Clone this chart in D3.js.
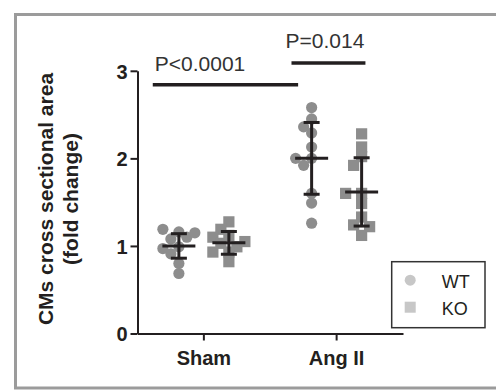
<!DOCTYPE html>
<html>
<head>
<meta charset="utf-8">
<script src="https://cdn.jsdelivr.net/npm/d3@7.9.0/dist/d3.min.js"></script>
<style>
  html, body { margin: 0; padding: 0; background: #fff; }
  svg { display: block; font-family: "Liberation Sans", Arial, sans-serif; }
</style>
</head>
<body>
<svg width="496" height="390"></svg>
<script>
// groups on the x axis and the two genotypes inside each
const categories = ['Sham', 'Ang II'];
const genotypes = ['WT', 'KO'];

// individual fold-change values
const shamWT = [1.16, 1.19, 1.08, 0.99, 0.97, 0.91, 0.80, 0.685, 1.10, 1.15];
const shamKO = [1.275, 1.19, 1.12, 1.10, 1.03, 0.99, 0.93, 0.93, 0.82, 1.05];
const angWT = [2.58, 2.45, 2.36, 2.29, 2.13, 2.0, 2.0, 1.92, 1.6, 1.49, 1.26];
const angKO = [2.28, 2.13, 2.02, 1.92, 1.6, 1.6, 1.485, 1.33, 1.24, 1.22, 1.12];

// mean and SD bars as drawn
const means = [1.0, 1.035, 2.0, 1.617];
const sds = [0.14, 0.13, 0.41, 0.39];

const yTicks = [0, 1, 2, 3];

// significance annotations (x in category units: 0 = Sham, 1 = Ang II)
const sigLabels = ['P<0.0001', 'P=0.014'];
const sigFrom = [-0.385, 0.66];
const sigTo = [0.71, 1.217];
const sigLevel = [2.84, 3.09];
const sigTextX = [-0.37, 0.615];
const sigTextY = [3.0, 3.255];

const series = [
  { cat: 'Sham', geno: 'WT', values: shamWT },
  { cat: 'Sham', geno: 'KO', values: shamKO },
  { cat: 'Ang II', geno: 'WT', values: angWT },
  { cat: 'Ang II', geno: 'KO', values: angKO },
];
series.forEach((s, i) => { s.mean = means[i]; s.sd = sds[i]; });

const svg = d3.select('svg');
const ink = '#231f20';
const dotColor = '#8d8d8d';

// outer grey frame
svg.append('rect')
  .attr('x', 15.5).attr('y', 14.5)
  .attr('width', 520).attr('height', 373.5)
  .attr('fill', 'none').attr('stroke', '#9b9b9b').attr('stroke-width', 3);

const x = d3.scaleBand().domain(categories).range([137.5, 403]);
const xCenter = (c) => x(c) + x.bandwidth() / 2;
const xSub = d3.scalePoint().domain(genotypes).range([-25, 25]);
const xCat = d3.scaleLinear().domain([0, 1])
  .range([xCenter(categories[0]), xCenter(categories[1])]);
const y = d3.scaleLinear().domain([0, 3]).range([333.5, 70.8]);

// y axis
const yAxis = svg.append('g')
  .attr('transform', 'translate(137.5,0)')
  .call(d3.axisLeft(y).tickValues(yTicks).tickFormat(d3.format('d')).tickSize(7).tickSizeOuter(0));
yAxis.select('.domain').attr('stroke', ink).attr('stroke-width', 2);
yAxis.selectAll('.tick line').attr('stroke', ink).attr('stroke-width', 2);
yAxis.selectAll('.tick text')
  .attr('fill', ink).attr('font-size', 20).attr('font-weight', 'bold')
  .attr('font-family', '"Liberation Sans", Arial, sans-serif')
  .attr('x', -10).attr('dy', '0.36em');

// x axis
const xAxis = svg.append('g')
  .attr('transform', 'translate(0,333.5)')
  .call(d3.axisBottom(x).tickSize(7).tickSizeOuter(0));
xAxis.select('.domain').attr('stroke', ink).attr('stroke-width', 2);
xAxis.selectAll('.tick line').attr('stroke', ink).attr('stroke-width', 2);
xAxis.selectAll('.tick text')
  .attr('fill', ink).attr('font-size', 20).attr('font-weight', 'bold')
  .attr('font-family', '"Liberation Sans", Arial, sans-serif')
  .attr('y', 17).attr('dy', '0.71em');

// y axis title
const yTitle = svg.append('text')
  .attr('transform', 'translate(52.5,199) rotate(-90)')
  .attr('text-anchor', 'middle')
  .attr('font-size', 21).attr('font-weight', 'bold').attr('fill', ink);
yTitle.append('tspan').attr('x', 0).attr('y', 0).text('CMs cross sectional area');
yTitle.append('tspan').attr('x', 0).attr('y', 25.5).text('(fold change)');

// simple beeswarm so overlapping points spread sideways
function swarm(values, cx, step, minDist) {
  const placed = [];
  const offsets = [0, -step, step, -2 * step, 2 * step];
  values.forEach((v) => {
    const py = y(v);
    let best = null, bestD = -1;
    for (const o of offsets) {
      const px = cx + o;
      const d = placed.length
        ? d3.min(placed, (p) => Math.hypot(p.x - px, p.y - py))
        : Infinity;
      if (d >= minDist) { best = px; break; }
      if (d > bestD) { bestD = d; best = px; }
    }
    placed.push({ x: best, y: py, v });
  });
  return placed;
}

const r = 5.6;
series.forEach((s) => {
  const cx = xCenter(s.cat) + xSub(s.geno);
  const pts = swarm(s.values, cx, 8, 9.3);
  const g = svg.append('g');
  if (s.geno === 'WT') {
    g.selectAll('circle').data(pts).join('circle')
      .attr('cx', (d) => d.x).attr('cy', (d) => d.y).attr('r', r)
      .attr('fill', dotColor);
  } else {
    g.selectAll('rect').data(pts).join('rect')
      .attr('x', (d) => d.x - r).attr('y', (d) => d.y - r)
      .attr('width', 2 * r).attr('height', 2 * r)
      .attr('fill', dotColor);
  }

  // mean and SD
  const eb = svg.append('g').attr('stroke', ink).attr('stroke-width', 3);
  eb.append('line')
    .attr('x1', cx).attr('x2', cx)
    .attr('y1', y(s.mean - s.sd)).attr('y2', y(s.mean + s.sd));
  [s.mean - s.sd, s.mean + s.sd].forEach((v) => {
    eb.append('line')
      .attr('x1', cx - 8).attr('x2', cx + 8)
      .attr('y1', y(v)).attr('y2', y(v));
  });
  eb.append('line')
    .attr('x1', cx - 16.5).attr('x2', cx + 16.5)
    .attr('y1', y(s.mean)).attr('y2', y(s.mean));
});

// significance bars
sigLabels.forEach((lab, i) => {
  svg.append('line')
    .attr('x1', xCat(sigFrom[i])).attr('x2', xCat(sigTo[i]))
    .attr('y1', y(sigLevel[i])).attr('y2', y(sigLevel[i]))
    .attr('stroke', ink).attr('stroke-width', 3.5);
  svg.append('text')
    .attr('x', xCat(sigTextX[i])).attr('y', y(sigTextY[i]))
    .attr('font-size', 21).attr('fill', '#333')
    .text(lab);
});

// legend
const legend = svg.append('g').attr('transform', 'translate(391.7,261.7)');
legend.append('rect')
  .attr('width', 93.3).attr('height', 66)
  .attr('fill', '#fff').attr('stroke', '#333').attr('stroke-width', 1.5);
const legColor = '#c7c7c7';
legend.append('circle').attr('cx', 18.5).attr('cy', 18.5).attr('r', 5.5).attr('fill', legColor);
legend.append('rect').attr('x', 13).attr('y', 40).attr('width', 11).attr('height', 11).attr('fill', legColor);
genotypes.forEach((gname, i) => {
  legend.append('text')
    .attr('x', 50).attr('y', 26.5 + i * 27)
    .attr('font-size', 18).attr('fill', ink)
    .text(gname);
});
</script>
</body>
</html>
